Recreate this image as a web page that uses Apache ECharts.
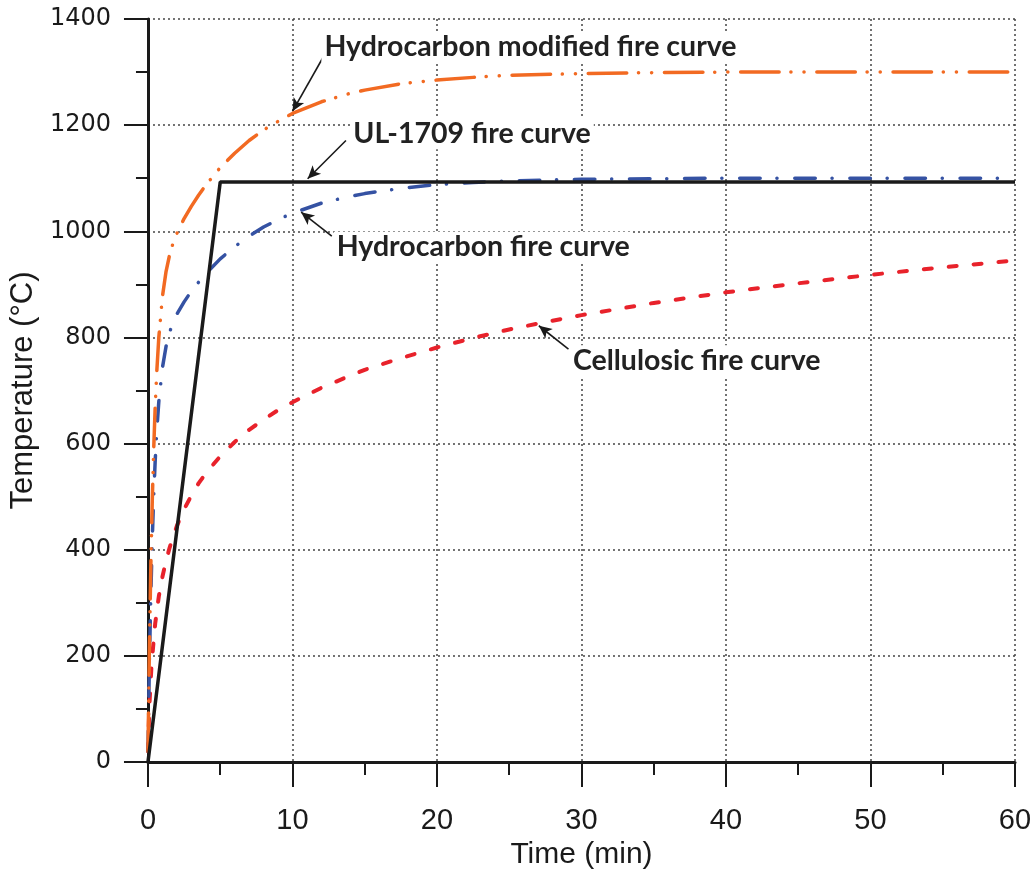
<!DOCTYPE html>
<html>
<head>
<meta charset="utf-8">
<script src="https://cdn.jsdelivr.net/npm/echarts@6/dist/echarts.min.js"></script>
<style>
  html, body { margin: 0; padding: 0; background: #fff; }
  #chart { width: 1035px; height: 875px; }
</style>
</head>
<body>
<div id="chart"></div>
<script>
// Standard fire curves: time (min) vs gas temperature (°C)
const hcTime = [0, 0.1, 0.2, 0.3, 0.4, 0.5, 0.6, 0.75, 1, 1.25, 1.5, 1.75, 2, 2.5, 3, 3.5, 4, 5, 6, 7, 8, 9, 10, 12, 14, 15, 17.5, 20, 22.5, 25, 30, 35, 40, 45, 50, 55, 60];
const hydrocarbonTemp = [20, 187, 318, 422, 504, 568, 620, 679, 743, 783, 810, 829, 844, 867, 887, 904, 920, 948, 971, 991, 1008, 1022, 1034, 1053, 1066, 1071, 1081, 1088, 1092, 1095, 1098, 1099, 1100, 1100, 1100, 1100, 1100];
const hcModifiedTemp = [20, 218, 374, 496, 593, 670, 731, 800, 877, 924, 956, 979, 996, 1024, 1047, 1068, 1087, 1120, 1147, 1171, 1191, 1207, 1222, 1244, 1260, 1266, 1278, 1285, 1290, 1294, 1297, 1299, 1300, 1300, 1300, 1300, 1300];

const cellTime = [0, 0.1, 0.25, 0.5, 0.75, 1, 1.25, 1.5, 2, 2.5, 3, 3.5, 4, 5, 6, 7, 8, 9, 10, 12, 14, 15, 17.5, 20, 22.5, 25, 27.5, 30, 35, 40, 45, 50, 55, 60];
const cellulosicTemp = [20, 108, 185, 261, 312, 349, 379, 404, 445, 476, 502, 525, 544, 576, 603, 626, 645, 663, 678, 705, 728, 739, 761, 781, 799, 815, 829, 842, 865, 885, 902, 918, 932, 945];

const ulTime = [0, 5, 60];
const ulTemp = [0, 1093, 1093];

const xTicks = [0, 10, 20, 30, 40, 50, 60];
const yTicks = [0, 200, 400, 600, 800, 1000, 1200, 1400];

const pairs = (xs, ys) => xs.map((x, i) => [x, ys[i]]);

// Callout labels with their arrows, in data coordinates
const callouts = [
  { text: 'Hydrocarbon modified fire curve', at: [12.0, 1348], from: [12.1, 1327], to: [10.0, 1226] },
  { text: 'UL-1709 fire curve',              at: [14.0, 1184], from: [13.7, 1171], to: [11.05, 1099] },
  { text: 'Hydrocarbon fire curve',          at: [12.85, 970], from: [12.72, 991], to: [10.6, 1036] },
  { text: 'Cellulosic fire curve',           at: [29.2, 756],  from: [29.1, 778],  to: [27.05, 822] }
];

const chart = echarts.init(document.getElementById('chart'), null, { renderer: 'canvas' });

const tickFontY = 'DejaVu Sans';
const textFont = 'Liberation Sans';

const option = {
  animation: false,
  backgroundColor: '#fff',
  grid: { left: 147, right: 20, top: 19, bottom: 111, containLabel: false },
  xAxis: {
    type: 'value', min: 0, max: 60, interval: 10,
    name: 'Time (min)', nameLocation: 'middle', nameGap: 78,
    nameTextStyle: { fontFamily: textFont, fontSize: 30, color: '#1a1a1a' },
    axisLine: { show: true, onZero: false, lineStyle: { color: '#1a1a1a', width: 3 } },
    axisTick: { show: true, inside: false, length: 25, lineStyle: { color: '#1a1a1a', width: 2 } },
    minorTick: { show: true, splitNumber: 2, length: 13, lineStyle: { color: '#1a1a1a', width: 2 } },
    axisLabel: {
      margin: 44, fontFamily: textFont, fontSize: 29, color: '#1a1a1a',
      formatter: v => (xTicks.includes(v) ? String(v) : '')
    },
    splitLine: { show: true, lineStyle: { color: '#444', width: 1.5, type: [2, 3] } }
  },
  yAxis: {
    type: 'value', min: 0, max: 1400, interval: 200,
    name: 'Temperature (°C)', nameLocation: 'middle', nameGap: 106, nameRotate: 90,
    nameTextStyle: { fontFamily: textFont, fontSize: 31, color: '#1a1a1a' },
    axisLine: { show: true, onZero: false, lineStyle: { color: '#1a1a1a', width: 3 } },
    axisTick: { show: true, inside: false, length: 24, lineStyle: { color: '#1a1a1a', width: 2 } },
    minorTick: { show: true, splitNumber: 2, length: 12, lineStyle: { color: '#1a1a1a', width: 2 } },
    axisLabel: {
      margin: 37, fontFamily: tickFontY, fontSize: 24, color: '#1a1a1a',
      formatter: v => (yTicks.includes(v) ? String(v) : '')
    },
    splitLine: { show: true, lineStyle: { color: '#444', width: 1.5, type: [2, 3] } }
  },
  series: [
    {
      name: 'Cellulosic fire curve', type: 'line', data: pairs(cellTime, cellulosicTemp),
      showSymbol: false, z: 3,
      lineStyle: { color: '#e8222b', width: 4, type: [8, 17], cap: 'round', join: 'round' }
    },
    {
      name: 'Hydrocarbon fire curve', type: 'line', data: pairs(hcTime, hydrocarbonTemp),
      showSymbol: false, z: 4,
      lineStyle: { color: '#3552a3', width: 3.5, type: [20.5, 16.75, 0.1, 17.75], cap: 'round', join: 'round' }
    },
    {
      name: 'Hydrocarbon modified fire curve', type: 'line', data: pairs(hcTime, hcModifiedTemp),
      showSymbol: false, z: 5,
      lineStyle: { color: '#f26a22', width: 3.5, type: [38.5, 11.75, 0.1, 13, 0.1, 12.75], cap: 'round', join: 'round' }
    },
    {
      name: 'UL-1709 fire curve', type: 'line', data: pairs(ulTime, ulTemp),
      showSymbol: false, z: 6,
      lineStyle: { color: '#1a1a1a', width: 3.5, type: 'solid' }
    },
    {
      // callout arrows
      name: 'callouts', type: 'line', data: [], z: 8, silent: true,
      markLine: {
        silent: true, animation: false,
        label: { show: false },
        lineStyle: { color: '#1a1a1a', width: 1.6, type: 'solid' },
        symbol: ['none', 'arrow'], symbolSize: [9, 13],
        data: callouts.map(c => [{ coord: c.from }, { coord: c.to }])
      }
    }
  ]
};

chart.setOption(option);

// Callout texts placed at their data anchors
const texts = callouts.map(c => {
  const p = chart.convertToPixel({ gridIndex: 0 }, c.at);
  return {
    type: 'text', x: p[0], y: p[1], z: 20,
    style: {
      text: c.text, fill: '#222', font: 'bold 28.5px Lato',
      verticalAlign: 'middle', align: 'left',
      backgroundColor: '#fff', padding: [1, 3]
    }
  };
});
chart.setOption({ graphic: texts });
</script>
</body>
</html>
